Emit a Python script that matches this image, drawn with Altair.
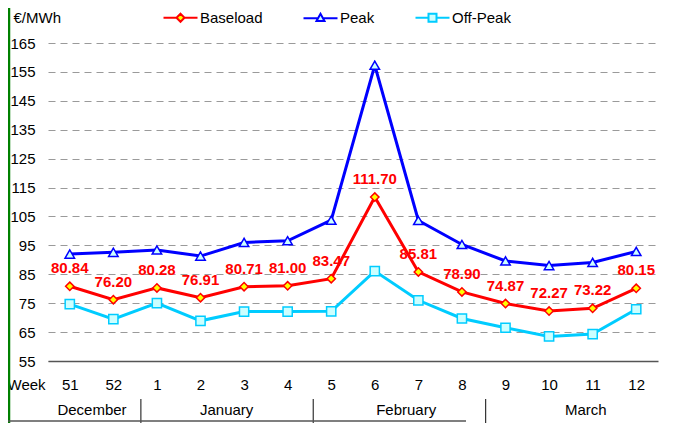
import altair as alt
import pandas as pd

weeks = ["51", "52", "1", "2", "3", "4", "5", "6", "7", "8", "9", "10", "11", "12"]
baseload = [80.84, 76.20, 80.28, 76.91, 80.71, 81.00, 83.47, 111.70, 85.81, 78.90, 74.87, 72.27, 73.22, 80.15]
peak = [92.0, 92.6, 93.4, 91.3, 96.0, 96.6, 103.7, 157.3, 103.6, 95.3, 89.6, 88.0, 89.1, 92.9]
offpeak = [74.7, 69.5, 75.0, 68.9, 72.1, 72.1, 72.2, 86.1, 76.0, 69.7, 66.5, 63.5, 64.3, 72.9]
series_names = ["Baseload", "Peak", "Off-Peak"]
months = ["December", "January", "February", "March"]
month_weeks = [2, 4, 4, 4]
y_ticks = list(range(55, 166, 10))

line_colors = ["#FF0000", "#0000FF", "#00CCFF"]
fill_colors = ["#FFFF00", "#CCFFFF", "#CCFFFF"]
shapes = ["diamond", "triangle-up", "square"]
sizes = [70, 90, 85]
# legend glyphs: line segment with the marker in its middle (unit = 4px)
legend_paths = [
    "M-1,0L2.25,0M4.25,0L7.5,0M3.25,-1L4.25,0L3.25,1L2.25,0Z",
    "M-1,0.1L2.65,0.1M3.85,0.1L7.5,0.1M2.25,0.8L3.25,-1L4.25,0.8Z",
    "M-1,0L2.25,0M4.25,0L7.5,0M2.25,-1L4.25,-1L4.25,1L2.25,1Z",
]

FONT = "Liberation Sans"
W, H = 610, 318

rows = []
for name, vals in zip(series_names, [baseload, peak, offpeak]):
    for i, (w, v) in enumerate(zip(weeks, vals)):
        rows.append({"week": w, "idx": i, "series": name, "value": v})
df = pd.DataFrame(rows)

mdf = pd.DataFrame({"month": months, "n": month_weeks})
mdf["end"] = mdf["n"].cumsum()
mdf["start"] = mdf["end"] - mdf["n"]
mdf["mid"] = (mdf["start"] + mdf["end"]) / 2

xenc = alt.X(
    "week:N",
    sort=weeks,
    scale=alt.Scale(type="point", domain=weeks, padding=0.5),
    axis=alt.Axis(
        title="Week", titleX=-41, titleY=28, titleAlign="left", titleBaseline="alphabetic",
        titleAngle=0, titleFont=FONT, titleFontSize=15, titleFontWeight="normal", titleColor="#000",
        labelAngle=0, labelFont=FONT, labelFontSize=15, labelColor="#000",
        labelBaseline="alphabetic", labelPadding=28, ticks=False, tickSize=0,
        domain=True, domainColor="#555", domainWidth=1.5, grid=False,
    ),
)
yenc = alt.Y(
    "value:Q",
    scale=alt.Scale(domain=[55, 165], nice=False, zero=False),
    axis=alt.Axis(
        values=y_ticks, title="€/MWh", titleX=-35, titleY=-26, titleAlign="left",
        titleBaseline="middle", titleAngle=0, titleFont=FONT, titleFontSize=15,
        titleFontWeight="normal", titleColor="#000",
        labelFont=FONT, labelFontSize=15, labelColor="#000", labelPadding=13,
        ticks=False, tickSize=0, domain=False,
        grid=True, gridColor="#9a9a9a", gridDash=[7, 5], gridWidth=1.2,
    ),
)

base = alt.Chart(df)

line_layers = []
point_layers = []
for name, lc, fc, sh, sz in zip(series_names, line_colors, fill_colors, shapes, sizes):
    sub = base.transform_filter(alt.datum.series == name)
    line_layers.append(
        sub.mark_line(strokeWidth=3, color=lc).encode(x=xenc, y=yenc, order=alt.Order("idx:Q"))
    )
    point_layers.append(
        sub.mark_point(shape=sh, filled=True, fill=fc, stroke=lc, strokeWidth=1.5, size=sz, opacity=1)
        .encode(x=xenc, y=yenc)
    )

labels = base.transform_filter(alt.datum.series == "Baseload").mark_text(
    dy=-18, font=FONT, fontSize=15, fontWeight="bold", color="#FF0000"
).encode(x=xenc, y=yenc, text=alt.Text("value:Q", format=".2f"))

leg = alt.Legend(
    orient="none", legendX=112, legendY=-33, direction="horizontal", title=None,
    labelFont=FONT, labelFontSize=15, labelColor="#000", symbolSize=64, symbolStrokeWidth=2,
    labelOffset=25, columnPadding=36, padding=0,
    labelExpr="datum.label == 'Peak' ? 'Peak ' : datum.label",
)
ghost = base.transform_filter("datum.value < 0").mark_point(filled=True, opacity=1).encode(
    x=xenc, y=yenc,
    shape=alt.Shape("series:N", scale=alt.Scale(domain=series_names, range=legend_paths), legend=leg),
    stroke=alt.Stroke("series:N", scale=alt.Scale(domain=series_names, range=line_colors), legend=leg),
    fill=alt.Fill("series:N", scale=alt.Scale(domain=series_names, range=fill_colors), legend=leg),
)

main = alt.layer(*line_layers, *point_layers, labels, ghost)

label_scale = alt.Scale(domain=[0.02, 13.61], nice=False, zero=False)
sep_scale = alt.Scale(domain=[-0.155, 14.0], nice=False, zero=False)
month_text = alt.Chart(mdf).mark_text(font=FONT, fontSize=15, color="#000", baseline="middle").encode(
    x=alt.X("mid:Q", scale=label_scale, axis=None), y=alt.value(367), text="month:N"
)
seps = alt.Chart(mdf).transform_filter("datum.start > 0").mark_rule(color="#333", strokeWidth=1.2).encode(
    x=alt.X("start:Q", scale=sep_scale, axis=None),
    y=alt.value(356), y2=alt.value(380),
)
one = alt.Data(values=[{"k": 1}])
green = alt.Chart(one).mark_rule(color="#008000", strokeWidth=2.5).encode(
    x=alt.value(-39), y=alt.value(-35), y2=alt.value(380)
)
bottom = alt.Chart(one).mark_rule(color="#555", strokeWidth=1.5).encode(
    x=alt.value(-40), x2=alt.value(418), y=alt.value(378)
)

chart = alt.layer(main, month_text, seps, green, bottom).resolve_scale(x="independent").properties(
    width=W, height=H,
    autosize=alt.AutoSizeParams(type="none"),
    padding={"left": 40, "top": 35, "right": 7, "bottom": 62},
    background="white",
).configure_view(stroke=None)

chart.save("out.html", embed_options={"renderer": "svg", "actions": False})
